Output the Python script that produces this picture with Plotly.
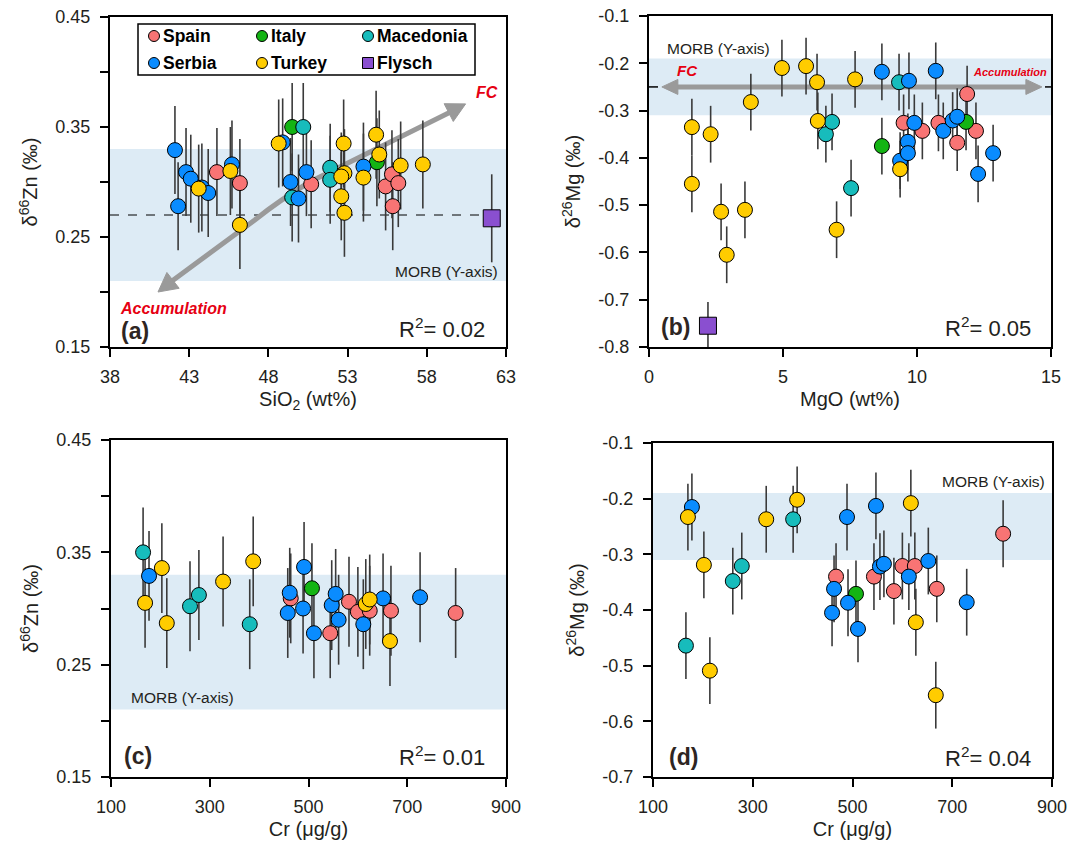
import math
import plotly.graph_objects as go

W, H = 1083, 851
FONT = "Liberation Sans, Arial, sans-serif"
DARK = "#231f20"
RED = "#e60012"
ARROW = "#9a9a9a"
BAND = "#ddebf5"

ORDER = ["Spain", "Italy", "Macedonia", "Serbia", "Turkey", "Flysch"]
COLORS = {"Spain": "#f87474", "Italy": "#14b414", "Macedonia": "#17bcbc",
          "Serbia": "#0a8cff", "Turkey": "#ffcc00", "Flysch": "#8a4fd0"}

# ---------------- Panel (a): SiO2 (wt%) vs d66Zn ----------------
A_SPAIN_X = [44.75, 46.2, 50.7, 55.4, 55.8, 56.2, 55.85]
A_SPAIN_Y = [0.309, 0.299, 0.298, 0.296, 0.307, 0.299, 0.278]
A_ITALY_X = [49.5, 54.85]
A_ITALY_Y = [0.350, 0.318]
A_MACED_X = [50.2, 49.5, 51.9, 51.9]
A_MACED_Y = [0.350, 0.286, 0.313, 0.302]
A_SERBIA_X = [42.1, 42.3, 42.8, 43.1, 43.8, 44.2, 45.7, 48.9, 49.4, 49.9, 50.4, 54.0]
A_SERBIA_Y = [0.329, 0.278, 0.309, 0.303, 0.295, 0.290, 0.316, 0.336, 0.300, 0.285, 0.309, 0.314]
A_TURKEY_X = [43.6, 45.6, 46.2, 48.65, 52.75, 52.8, 52.6, 52.6, 52.8, 54.0, 54.8, 55.0, 56.35, 57.75]
A_TURKEY_Y = [0.294, 0.310, 0.261, 0.335, 0.335, 0.308, 0.305, 0.287, 0.272, 0.304, 0.343, 0.325, 0.315, 0.316]
A_FLYSCH_X = [62.1]
A_FLYSCH_Y = [0.267]

# ---------------- Panel (b): MgO (wt%) vs d26Mg ----------------
B_SPAIN_X = [9.5, 10.2, 10.8, 11.5, 11.87, 12.2]
B_SPAIN_Y = [-0.326, -0.343, -0.326, -0.368, -0.265, -0.343]
B_ITALY_X = [8.69, 11.83]
B_ITALY_Y = [-0.375, -0.324]
B_MACED_X = [6.6, 6.83, 7.54, 9.33]
B_MACED_Y = [-0.350, -0.324, -0.464, -0.240]
B_SERBIA_X = [8.69, 9.37, 9.66, 9.66, 9.7, 9.9, 10.7, 10.98, 11.33, 11.5, 12.28, 12.84]
B_SERBIA_Y = [-0.218, -0.406, -0.366, -0.390, -0.237, -0.326, -0.216, -0.343, -0.321, -0.313, -0.434, -0.390]
B_TURKEY_X = [1.6, 1.6, 2.3, 2.69, 2.9, 3.58, 3.8, 4.96, 5.86, 6.27, 6.3, 7.0, 7.69, 9.37]
B_TURKEY_Y = [-0.335, -0.455, -0.350, -0.514, -0.605, -0.510, -0.282, -0.210, -0.206, -0.240, -0.322, -0.552, -0.234, -0.424]
B_FLYSCH_X = [2.2]
B_FLYSCH_Y = [-0.755]

# ---------------- Panel (c): Cr (ug/g) vs d66Zn ----------------
C_SPAIN_X = [464, 544, 582, 600, 624, 667, 798]
C_SPAIN_Y = [0.309, 0.278, 0.306, 0.297, 0.298, 0.298, 0.296]
C_ITALY_X = [507]
C_ITALY_Y = [0.318]
C_MACED_X = [165, 260, 278, 381]
C_MACED_Y = [0.350, 0.302, 0.312, 0.286]
C_SERBIA_X = [177, 458, 462, 489, 491, 511, 547, 555, 561, 611, 651, 726]
C_SERBIA_Y = [0.329, 0.296, 0.314, 0.300, 0.337, 0.278, 0.303, 0.313, 0.290, 0.286, 0.309, 0.310]
C_TURKEY_X = [169, 203, 213, 327, 388, 616, 624, 665]
C_TURKEY_Y = [0.305, 0.336, 0.287, 0.324, 0.342, 0.304, 0.308, 0.271]

# ---------------- Panel (d): Cr (ug/g) vs d26Mg ----------------
D_SPAIN_X = [467, 543, 583, 600, 625, 669, 802]
D_SPAIN_Y = [-0.340, -0.340, -0.366, -0.321, -0.321, -0.362, -0.263]
D_ITALY_X = [507]
D_ITALY_Y = [-0.371]
D_MACED_X = [166, 260, 278, 381]
D_MACED_Y = [-0.464, -0.348, -0.321, -0.237]
D_SERBIA_X = [178, 459, 463, 489, 491, 511, 547, 555, 563, 613, 652, 729]
D_SERBIA_Y = [-0.215, -0.405, -0.362, -0.233, -0.387, -0.434, -0.213, -0.322, -0.317, -0.340, -0.312, -0.386]
D_TURKEY_X = [170, 202, 214, 327, 389, 617, 627, 667]
D_TURKEY_Y = [-0.233, -0.319, -0.509, -0.237, -0.202, -0.208, -0.422, -0.553]

# analytical uncertainties (2SD)
ZN_2SD = 0.04
MG_2SD = 0.06
FLYSCH_ZN_2SD = 0.04
FLYSCH_MG_2SD = 0.05

# MORB reference ranges
MORB_ZN = (0.21, 0.33)
MORB_ZN_MEAN = 0.27
MORB_MG = (-0.31, -0.19)
MORB_MG_MEAN = -0.25

R2 = {"a": "0.02", "b": "0.05", "c": "0.01", "d": "0.04"}

PANELS = {
    "a": dict(xa="x", ya="y", data={
        "Spain": (A_SPAIN_X, A_SPAIN_Y), "Italy": (A_ITALY_X, A_ITALY_Y),
        "Macedonia": (A_MACED_X, A_MACED_Y), "Serbia": (A_SERBIA_X, A_SERBIA_Y),
        "Turkey": (A_TURKEY_X, A_TURKEY_Y), "Flysch": (A_FLYSCH_X, A_FLYSCH_Y)},
        err=ZN_2SD, ferr=FLYSCH_ZN_2SD),
    "b": dict(xa="x2", ya="y2", data={
        "Spain": (B_SPAIN_X, B_SPAIN_Y), "Italy": (B_ITALY_X, B_ITALY_Y),
        "Macedonia": (B_MACED_X, B_MACED_Y), "Serbia": (B_SERBIA_X, B_SERBIA_Y),
        "Turkey": (B_TURKEY_X, B_TURKEY_Y), "Flysch": (B_FLYSCH_X, B_FLYSCH_Y)},
        err=MG_2SD, ferr=FLYSCH_MG_2SD),
    "c": dict(xa="x3", ya="y3", data={
        "Spain": (C_SPAIN_X, C_SPAIN_Y), "Italy": (C_ITALY_X, C_ITALY_Y),
        "Macedonia": (C_MACED_X, C_MACED_Y), "Serbia": (C_SERBIA_X, C_SERBIA_Y),
        "Turkey": (C_TURKEY_X, C_TURKEY_Y)},
        err=ZN_2SD, ferr=FLYSCH_ZN_2SD),
    "d": dict(xa="x4", ya="y4", data={
        "Spain": (D_SPAIN_X, D_SPAIN_Y), "Italy": (D_ITALY_X, D_ITALY_Y),
        "Macedonia": (D_MACED_X, D_MACED_Y), "Serbia": (D_SERBIA_X, D_SERBIA_Y),
        "Turkey": (D_TURKEY_X, D_TURKEY_Y)},
        err=MG_2SD, ferr=FLYSCH_MG_2SD),
}

fig = go.Figure()

for key, p in PANELS.items():
    ex, ey, ee = [], [], []
    for c in ORDER:
        if c in p["data"]:
            xs, ys = p["data"][c]
            ex += list(xs)
            ey += list(ys)
            ee += [p["ferr"] if c == "Flysch" else p["err"]] * len(xs)
    fig.add_trace(go.Scatter(
        x=ex, y=ey, mode="markers", xaxis=p["xa"], yaxis=p["ya"],
        marker=dict(size=2, opacity=0),
        error_y=dict(type="data", array=ee, visible=True, color="#3a3a3a",
                     thickness=1.6, width=0),
        hoverinfo="skip", showlegend=False))
    for c in ORDER:
        if c not in p["data"]:
            continue
        xs, ys = p["data"][c]
        fig.add_trace(go.Scatter(
            x=xs, y=ys, mode="markers", name=c, xaxis=p["xa"], yaxis=p["ya"],
            marker=dict(size=15 if c != "Flysch" else 17,
                        symbol="square" if c == "Flysch" else "circle",
                        color=COLORS[c], line=dict(color="black", width=1)),
            showlegend=False))

# --------------- axes -----------------
def px2fx(px):
    return px / W

def py2fy(py):
    return 1 - py / H

TICKFONT = dict(family=FONT, size=18, color=DARK)
TITLEFONT = dict(family=FONT, size=20, color=DARK)

COMMON = dict(showline=True, linecolor="black", linewidth=2, mirror=True,
              ticks="outside", ticklen=8, tickwidth=1.5, tickcolor="black",
              showgrid=False, zeroline=False, tickfont=TICKFONT, automargin=False)

def xaxis(domain, rng, tick0, dtick, title, anchor):
    return dict(domain=domain, range=rng, tick0=tick0, dtick=dtick, tickmode="linear",
                ticklabelstandoff=4,
                title=dict(text=title, font=TITLEFONT, standoff=6), anchor=anchor, **COMMON)

def yaxis_linear(domain, rng, tick0, dtick, title, anchor):
    return dict(domain=domain, range=rng, tick0=tick0, dtick=dtick, tickmode="linear",
                minor=dict(tick0=tick0, dtick=dtick / 2, ticks="outside", ticklen=8,
                           tickwidth=1.5, tickcolor="black", showgrid=False),
                ticklabelstandoff=6,
                title=dict(text=title, font=TITLEFONT, standoff=12), anchor=anchor, **COMMON)

def yaxis_array(domain, vals, rng, title, anchor):
    return dict(domain=domain, range=rng, tickmode="array", tickvals=vals,
                ticktext=[f"{v:.1f}" for v in vals],
                ticklabelstandoff=6,
                title=dict(text=title, font=TITLEFONT, standoff=12), anchor=anchor, **COMMON)

MG_TICKS_B = [-0.8, -0.7, -0.6, -0.5, -0.4, -0.3, -0.2, -0.1]
MG_TICKS_D = [-0.7, -0.6, -0.5, -0.4, -0.3, -0.2, -0.1]

ZN_TITLE = "δ<sup>66</sup>Zn (‰)"
MG_TITLE = "δ<sup>26</sup>Mg (‰)"

dom_ax = [px2fx(110), px2fx(506)]
dom_bx = [px2fx(649), px2fx(1051)]
dom_cx = [px2fx(111), px2fx(506)]
dom_dx = [px2fx(653), px2fx(1052)]
dom_top = [py2fy(347), py2fy(17)]
dom_bty = [py2fy(347), py2fy(16)]
dom_cy = [py2fy(777), py2fy(440)]
dom_dy = [py2fy(777), py2fy(443)]

fig.update_layout(
    xaxis=xaxis(dom_ax, [38, 63], 38, 5, "SiO<sub>2</sub> (wt%)", "y"),
    yaxis=yaxis_linear(dom_top, [0.15, 0.45], 0.15, 0.1, ZN_TITLE, "x"),
    xaxis2=xaxis(dom_bx, [0, 15], 0, 5, "MgO (wt%)", "y2"),
    yaxis2=yaxis_array(dom_bty, MG_TICKS_B, [-0.8, -0.1], MG_TITLE, "x2"),
    xaxis3=xaxis(dom_cx, [100, 900], 100, 200, "Cr (μg/g)", "y3"),
    yaxis3=yaxis_linear(dom_cy, [0.15, 0.45], 0.15, 0.1, ZN_TITLE, "x3"),
    xaxis4=xaxis(dom_dx, [100, 900], 100, 200, "Cr (μg/g)", "y4"),
    yaxis4=yaxis_array(dom_dy, MG_TICKS_D, [-0.7, -0.1], MG_TITLE, "x4"),
)

# --------------- shapes: MORB bands, mean lines, arrows -----------------
shapes = []
for xa, ya, band in [("x", "y", MORB_ZN), ("x2", "y2", MORB_MG),
                     ("x3", "y3", MORB_ZN), ("x4", "y4", MORB_MG)]:
    shapes.append(dict(type="rect", xref=f"{xa} domain", yref=ya, x0=0, x1=1,
                       y0=band[0], y1=band[1], fillcolor=BAND, line=dict(width=0),
                       layer="below"))
# curved FC / accumulation arrow shaft in (a)
shapes.append(dict(type="path", xref="x", yref="y", layer="below",
                   path="M 41.66,0.2073 L 47.14,0.2655 Q 48.72,0.2836 50.61,0.300 L 59.88,0.3664",
                   line=dict(color=ARROW, width=5)))
shapes.append(dict(type="line", xref="x domain", yref="y", x0=0, x1=1,
                   y0=MORB_ZN_MEAN, y1=MORB_ZN_MEAN, layer="below",
                   line=dict(color="black", width=1, dash="dash")))
# horizontal arrow shaft in (b)
shapes.append(dict(type="line", xref="x2", yref="y2", x0=0.9, x1=14.2,
                   y0=MORB_MG_MEAN, y1=MORB_MG_MEAN, layer="below",
                   line=dict(color=ARROW, width=5)))
shapes.append(dict(type="line", xref="x2 domain", yref="y2", x0=0, x1=1,
                   y0=MORB_MG_MEAN, y1=MORB_MG_MEAN, layer="below",
                   line=dict(color="black", width=1, dash="dash")))


def arrow_head(xref, yref, x, y, dx, dy, length, half):
    """Triangle head with its tip at data point (x, y), pointing along the
    screen-space direction (dx, dy) (y up), sized in pixels."""
    n = math.hypot(dx, dy)
    ux, uy = dx / n, dy / n
    bx, by = -ux * length, -uy * length
    px_, py_ = -uy * half, ux * half
    path = (f"M 0,0 L {bx + px_:.2f},{by + py_:.2f} "
            f"L {bx - px_:.2f},{by - py_:.2f} Z")
    return dict(type="path", xref=xref, yref=yref, xsizemode="pixel", ysizemode="pixel",
                xanchor=x, yanchor=y, path=path, fillcolor=ARROW,
                line=dict(color=ARROW, width=1), layer="below")

shapes += [
    arrow_head("x", "y", 60.45, 0.371, 181, 93, 19, 10),
    arrow_head("x", "y", 41.03, 0.200, -80, -62, 19, 10),
    arrow_head("x2", "y2", 0.48, MORB_MG_MEAN, -1, 0, 16, 7.5),
    arrow_head("x2", "y2", 14.66, MORB_MG_MEAN, 1, 0, 16, 7.5),
]
# dashed line redrawn above arrow shaft in (b)
shapes.append(dict(type="line", xref="x2 domain", yref="y2", x0=0, x1=1,
                   y0=MORB_MG_MEAN, y1=MORB_MG_MEAN, layer="below",
                   line=dict(color="black", width=1, dash="dash")))

# --------------- legend (drawn manually inside panel a) -----------------
LEG_BOX = (138, 24, 475, 75)
shapes.append(dict(type="rect", xref="paper", yref="paper",
                   x0=px2fx(LEG_BOX[0]), x1=px2fx(LEG_BOX[2]),
                   y0=py2fy(LEG_BOX[3]), y1=py2fy(LEG_BOX[1]),
                   fillcolor="white", line=dict(color="black", width=1.5), layer="above"))
LEG_POS = {"Spain": (154, 36), "Italy": (262, 36), "Macedonia": (368, 36),
           "Serbia": (154, 63), "Turkey": (262, 63), "Flysch": (368, 63)}
annotations = []
for c in ORDER:
    mx, my = LEG_POS[c]
    shapes.append(dict(type="rect" if c == "Flysch" else "circle",
                       xref="paper", yref="paper", xsizemode="pixel", ysizemode="pixel",
                       xanchor=px2fx(mx), yanchor=py2fy(my),
                       x0=-5.5, x1=5.5, y0=-5.5, y1=5.5,
                       fillcolor=COLORS[c], line=dict(color="black", width=1), layer="above"))
    annotations.append(dict(xref="paper", yref="paper", x=px2fx(mx + 7), y=py2fy(my),
                            xanchor="left", yanchor="middle", showarrow=False, text=c,
                            font=dict(family=FONT, size=17.5, color="black", weight="bold")))

fig.update_layout(shapes=shapes)


def txt(xref, yref, x, y, text, size, xanchor="left", color=DARK, bold=False, italic=False):
    return dict(xref=xref, yref=yref, x=x, y=y, text=text, showarrow=False,
                xanchor=xanchor, yanchor="middle",
                font=dict(family=FONT, size=size, color=color,
                          weight="bold" if bold else "normal",
                          style="italic" if italic else "normal"))

annotations += [
    txt("x", "y", 61.0, 0.381, "FC", 16, "left", RED, True, True),
    txt("x", "y", 42.0, 0.185, "Accumulation", 16, "center", RED, True, True),
    txt("x", "y", 62.6, 0.219, "MORB (Y-axis)", 15.5, "right"),
    txt("x", "y", 38.55, 0.165, "(a)", 23, "left", "#2e2522", True),
    txt("x", "y", 61.8, 0.167, f"R<sup>2</sup>= {R2['a']}", 22, "right"),

    txt("x2", "y2", 1.43, -0.216, "FC", 15, "center", RED, True, True),
    txt("x2", "y2", 13.47, -0.218, "Accumulation", 11, "center", RED, True, True),
    txt("x2", "y2", 0.6, -0.168, "MORB (Y-axis)", 15.5, "left"),
    txt("x2", "y2", 0.37, -0.757, "(b)", 23, "left", "#2e2522", True),
    txt("x2", "y2", 14.33, -0.757, f"R<sup>2</sup>= {R2['b']}", 22, "right"),

    txt("x3", "y3", 136, 0.2205, "MORB (Y-axis)", 15.5, "left"),
    txt("x3", "y3", 122, 0.169, "(c)", 23, "left", "#2e2522", True),
    txt("x3", "y3", 861, 0.169, f"R<sup>2</sup>= {R2['c']}", 22, "right"),

    txt("x4", "y4", 890, -0.170, "MORB (Y-axis)", 15.5, "right"),
    txt("x4", "y4", 128, -0.664, "(d)", 23, "left", "#2e2522", True),
    txt("x4", "y4", 862, -0.664, f"R<sup>2</sup>= {R2['d']}", 22, "right"),
]

fig.update_layout(
    annotations=annotations,
    width=W, height=H,
    margin=dict(l=0, r=0, t=0, b=0),
    paper_bgcolor="white", plot_bgcolor="white",
    font=dict(family=FONT, color=DARK),
    showlegend=False,
)

fig.write_html("out.html")
